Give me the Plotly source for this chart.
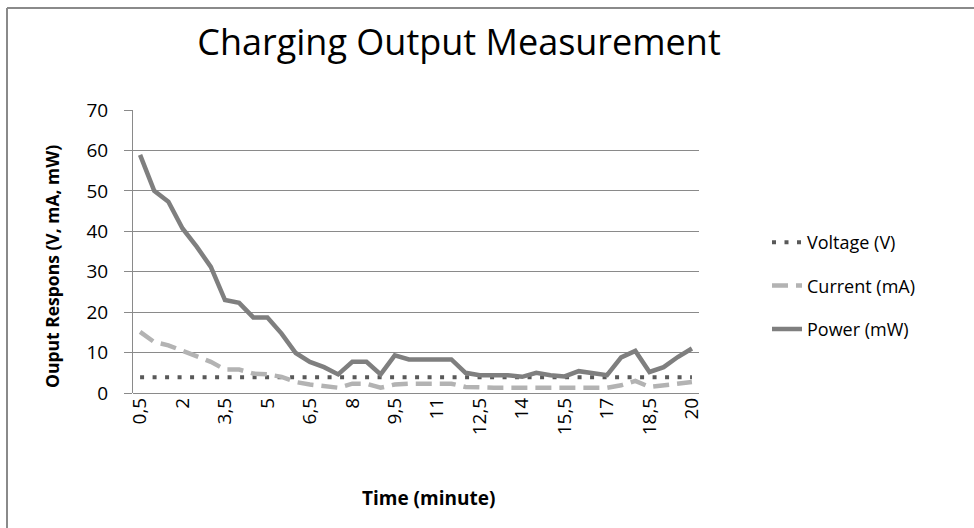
import plotly.graph_objects as go

time_labels = ["0,5","1","1,5","2","2,5","3","3,5","4","4,5","5",
               "5,5","6","6,5","7","7,5","8","8,5","9","9,5","10",
               "10,5","11","11,5","12","12,5","13","13,5","14","14,5","15",
               "15,5","16","16,5","17","17,5","18","18,5","19","19,5","20"]
voltage = [3.9]*40
current = [15.1,12.6,11.8,10.4,9.3,7.7,5.8,5.8,4.8,4.6,
           4.0,2.7,2.1,1.7,1.3,2.3,2.3,1.3,2.1,2.3,
           2.3,2.3,2.3,1.5,1.3,1.3,1.3,1.3,1.3,1.3,
           1.3,1.3,1.3,1.3,1.9,3.0,1.5,1.9,2.3,2.7]
power = [58.9,50.0,47.3,40.7,36.2,31.2,23.0,22.3,18.7,18.7,
         14.7,9.9,7.7,6.4,4.6,7.7,7.7,4.6,9.3,8.3,
         8.3,8.3,8.3,5.0,4.4,4.4,4.4,4.0,5.0,4.4,
         4.1,5.4,5.0,4.4,8.8,10.4,5.2,6.4,8.9,11.0]
shown_ticks = time_labels[::3]

font = "Open Sans"
L, R, T, B = 133, 699, 110, 393
W, H = 974, 528
pw, ph = R - L, B - T

fig = go.Figure()
fig.add_trace(go.Scatter(x=time_labels, y=voltage, name="Voltage (V)", mode="lines",
                         legendgroup="v",
                         line=dict(color="#595959", width=4, dash="4px,8.5px")))
fig.add_trace(go.Scatter(x=time_labels, y=current, name="Current (mA)", mode="lines",
                         legendgroup="c",
                         line=dict(color="#b3b3b3", width=4.5, dash="16px,8px")))
fig.add_trace(go.Scatter(x=time_labels, y=power, name="Power (mW)", mode="lines",
                         legendgroup="p",
                         line=dict(color="#7f7f7f", width=4.5)))

fig.update_layout(
    width=W, height=H,
    margin=dict(l=L, r=W - R, t=T, b=H - B, autoexpand=False),
    paper_bgcolor="white", plot_bgcolor="white",
    font=dict(family=font, color="#000000", size=18),
    title=dict(text="Charging Output Measurement", x=459 / W, xanchor="center",
               y=1 - 42 / H, yanchor="middle", font=dict(size=36, family=font)),
    showlegend=True,
    legend=dict(x=(767 - L) / pw, y=1 - (286 - T) / ph, xanchor="left", yanchor="middle",
                font=dict(size=18, family=font),
                tracegroupgap=17, bgcolor="rgba(0,0,0,0)"),
    xaxis=dict(type="category", tickmode="array", tickvals=shown_ticks,
               ticktext=shown_ticks, tickangle=-90, showgrid=False,
               range=[-0.5, 39.5], automargin=False,
               showline=False, ticks="", tickfont=dict(size=19)),
    yaxis=dict(range=[0, 70], dtick=10, showgrid=True, gridcolor="#8a8a8a",
               gridwidth=1, showline=True, linecolor="#8a8a8a", linewidth=1,
               zeroline=True, zerolinecolor="#8a8a8a", zerolinewidth=1,
               ticks="outside", ticklen=8, tickcolor="#8a8a8a", tickwidth=1,
               automargin=False, ticklabelstandoff=12, tickfont=dict(size=19)),
)
fig.add_annotation(text="<b>Time (minute)</b>", xref="paper", yref="paper",
                   x=(428 - L) / pw, y=-(498 - B) / ph, showarrow=False,
                   xanchor="center", yanchor="middle", font=dict(size=19, family=font))
fig.add_annotation(text="<b>Ouput Respons (V, mA, mW)</b>", xref="paper", yref="paper",
                   x=-(L - 52) / pw, y=(393 - 267) / ph, showarrow=False, textangle=-90,
                   xanchor="center", yanchor="middle", font=dict(size=17.5, family=font))
# outer chart border (top and left edges visible in the frame)
fig.add_shape(type="line", xref="paper", yref="paper",
              x0=-(L - 7) / pw, x1=(W - L) / pw, y0=(B - 8) / ph, y1=(B - 8) / ph,
              line=dict(color="#8a8a8a", width=2), layer="above")
fig.add_shape(type="line", xref="paper", yref="paper",
              x0=-(L - 7) / pw, x1=-(L - 7) / pw, y0=(B - 8) / ph, y1=-(H - B) / ph,
              line=dict(color="#8a8a8a", width=2), layer="above")
fig.write_html("out.html", config={"displayModeBar": False},
               post_script="document.body.style.margin='0';")
